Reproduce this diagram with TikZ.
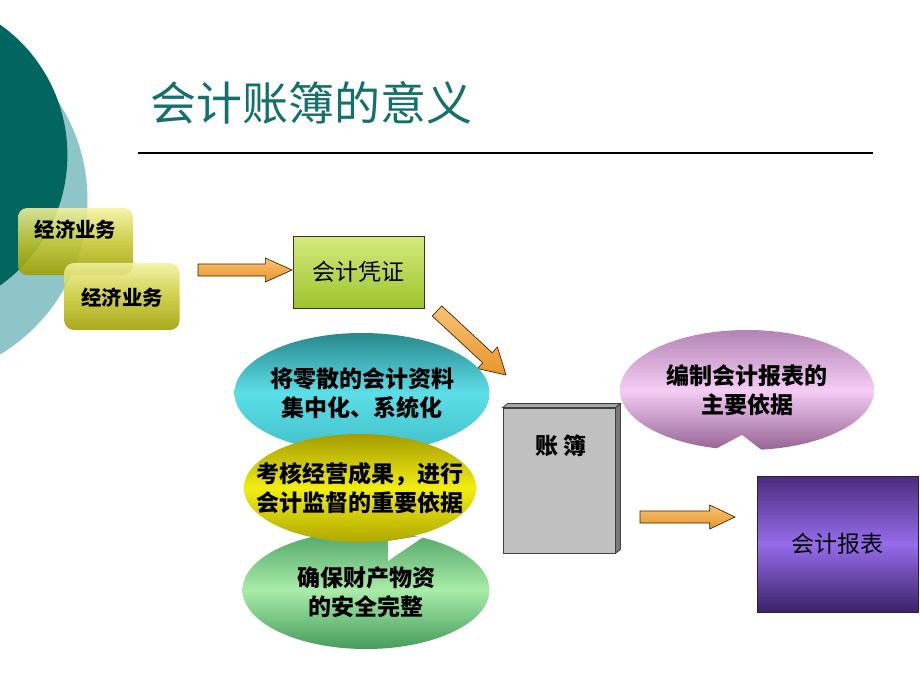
\documentclass[tikz,border=0pt]{standalone}
\usepackage{fontspec}
\usetikzlibrary{calc,shapes.geometric}
\newfontfamily\cjk{Noto Sans CJK SC}
\definecolor{darkteal}{HTML}{00665F}
\definecolor{lightteal}{HTML}{8EC5C9}
\definecolor{titlecol}{HTML}{14706B}
\definecolor{arrowtop}{HTML}{F8C272}
\definecolor{arrowbot}{HTML}{E8952C}
\newcommand\blockarrow[5]{%
  \coordinate (tmph) at ($(#2)!#5!(#1)$);
  \draw[blockarr] ($(#1)!#3!90:(#2)$) -- ($(tmph)!#3!90:(#2)$) -- ($(tmph)!#4!90:(#2)$)
    -- (#2) -- ($(tmph)!#4!-90:(#2)$) -- ($(tmph)!#3!-90:(#2)$) -- ($(#1)!#3!-90:(#2)$) -- cycle;}
\begin{document}
\begin{tikzpicture}[x=0.75pt,y=-0.75pt,
  every node/.style={font=\cjk},
  blockarr/.style={draw=black!75!orange, line width=0.5pt, top color=arrowtop, bottom color=arrowbot},
  ywbox/.style={rounded corners=7pt, minimum width=86.25pt, minimum height=50.25pt, inner sep=0pt,
    top color=white!75!yellow!90!olive, bottom color=olive!55!yellow!85!black, fill opacity=0.88},
  ywtext/.style={font=\cjk\bfseries\fontsize{15.3}{18}\selectfont},
  ell/.style={ellipse, inner ysep=0pt, inner xsep=-16pt, align=center, font=\cjk\bfseries\fontsize{17.25}{21.75}\selectfont},
  plain/.style={font=\cjk\fontsize{17.25}{21}\selectfont}
]
\useasboundingbox (0,0) rectangle (920,690);
\begin{scope}
  \clip (0,0) rectangle (920,690);
  \fill[lightteal] (-92.5,200) circle (135pt);
  \fill[darkteal] (-92.6,155) circle (120pt);
\end{scope}
% title
\node[font=\cjk\fontsize{34.5}{40}\selectfont, text=titlecol] (title) at (311,103) {会计账簿的意义};
\coordinate (rl) at (138,153);
\coordinate (rr) at (873,153);
\draw[line width=0.8pt] (rl) -- (rr);
% business boxes
\node[ywbox] (ea1) at (75.5,241.5) {};
\node[ywtext] (ea1t) at (75.5,230) {经济业务};
\node[ywbox] (ea2) at (122,296.5) {};
\node[ywtext] (ea2t) at (122,298) {经济业务};
% voucher
\node[draw=black!80!olive, line width=0.6pt, minimum width=98.25pt, minimum height=54pt,
  top color={rgb,255:red,214;green,234;blue,124}, bottom color={rgb,255:red,156;green,196;blue,46},
  plain] (voucher) at (358.5,272) {会计凭证};
% arrow 1
\coordinate (a1s) at (198,270);
\coordinate (a1e) at (292,270);
\blockarrow{a1s}{a1e}{4.5pt}{9pt}{20pt}
% arrow 2
\coordinate (a2s) at (437,311);
\coordinate (a2e) at (506,375);
\blockarrow{a2s}{a2e}{5.2pt}{11pt}{19pt}
% ellipses
\node[ell, minimum width=191.25pt, minimum height=90pt,
  top color={rgb,255:red,40;green,136;blue,140}, bottom color={rgb,255:red,64;green,192;blue,200},
  middle color={rgb,255:red,92;green,222;blue,232}] (e1) at (362,393) {将零散的会计资料\\集中化、系统化};
\node[ell, minimum width=185.25pt, minimum height=88.5pt,
  top color={rgb,255:red,80;green,164;blue,104}, bottom color={rgb,255:red,70;green,156;blue,92},
  middle color={rgb,255:red,168;green,236;blue,168}] (e3) at (366,590) {};
\node[ell] (e3t) at (366,592) {确保财产物资\\的安全完整};
\fill[white] (388,541) -- (426,535) -- (388,561) -- cycle;
\node[ell, minimum width=172.5pt, minimum height=81pt,
  top color={rgb,255:red,164;green,156;blue,0}, bottom color={rgb,255:red,176;green,168;blue,0},
  middle color={rgb,255:red,242;green,238;blue,16}] (e2) at (360,488) {考核经营成果，进行\\会计监督的重要依据};
% book
\node[draw=black!75, line width=0.6pt, fill={rgb,255:red,192;green,192;blue,192},
  minimum width=84pt, minimum height=108.75pt, inner sep=0pt] (book) at (559,480.5) {};
\draw[draw=black!75, line width=0.6pt, fill={rgb,255:red,170;green,170;blue,170}]
  (book.north west) -- ++(5,-4) -- ($(book.north east)+(5,-4)$) -- (book.north east) -- cycle;
\draw[draw=black!75, line width=0.6pt, fill={rgb,255:red,120;green,120;blue,120}]
  (book.north east) -- ++(5,-4) -- ($(book.south east)+(5,-4)$) -- (book.south east) -- cycle;
\node[font=\cjk\bfseries\fontsize{17.25}{21}\selectfont] (bookt) at (561,446) {账 簿};
% pink callout
\node[ell, minimum width=190.5pt, minimum height=90pt,
  top color={rgb,255:red,180;green,132;blue,180}, bottom color={rgb,255:red,150;green,100;blue,148},
  middle color={rgb,255:red,244;green,204;blue,244}] (e4) at (747,390) {编制会计报表的\\主要依据};
\fill[white] (712,451) -- (742,435) -- (764,452) -- cycle;
% arrow 3
\coordinate (a3s) at (640,517);
\coordinate (a3e) at (735,517);
\blockarrow{a3s}{a3e}{4.5pt}{9pt}{19pt}
% report
\node[draw=black!85, line width=0.6pt, minimum width=120.75pt, minimum height=102pt,
  top color={rgb,255:red,74;green,44;blue,126}, bottom color={rgb,255:red,58;green,34;blue,104},
  middle color={rgb,255:red,150;green,108;blue,234}, plain] (report) at (837.5,544) {会计报表};
\end{tikzpicture}
\end{document}
